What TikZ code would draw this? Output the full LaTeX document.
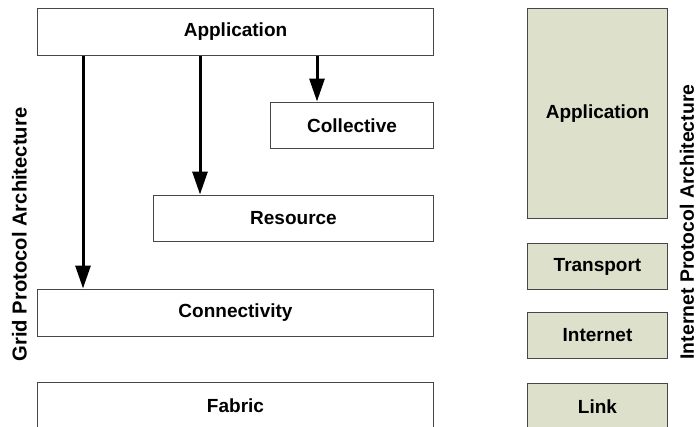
\documentclass[tikz,border=0pt]{standalone}
\usepackage{fontspec}
\setmainfont{Liberation Sans}
\usetikzlibrary{arrows.meta}
\definecolor{layergreen}{RGB}{221,224,203}
\definecolor{edgegray}{RGB}{70,70,70}
\begin{document}
\begin{tikzpicture}[x=1pt,y=1pt,
  layer/.style={draw=edgegray, line width=1pt, fill=white, anchor=north west,
    inner sep=0pt, font=\fontsize{19}{22}\selectfont\bfseries},
  iplayer/.style={layer, fill=layergreen},
  callarrow/.style={line width=3pt, -{Triangle[length=23pt,width=15pt]}, shorten >=0.5pt},
  sidelabel/.style={rotate=90, inner sep=0pt}]
  \useasboundingbox (0,0) rectangle (698,-426);
  \clip (0,0) rectangle (698,-426);

  % grid protocol stack
  \node[layer, minimum width=396, minimum height=47] (gapp) at (37,-8) {Application};
  \node[layer, minimum width=163, minimum height=46] (gcol) at (270,-102) {Collective};
  \node[layer, minimum width=280, minimum height=46] (gres) at (153,-195) {Resource};
  \node[layer, minimum width=396, minimum height=47] (gcon) at (37,-289) {Connectivity};
  \node[layer, minimum width=396, minimum height=62, text depth=0pt] (gfab) at (37,-382) {\raisebox{16pt}{Fabric}};

  % internet protocol stack
  \node[iplayer, minimum width=140, minimum height=210] (iapp) at (527,-8) {Application};
  \node[iplayer, minimum width=140, minimum height=46] (itra) at (527,-243) {Transport};
  \node[iplayer, minimum width=140, minimum height=46] (iint) at (527,-312) {Internet};
  \node[iplayer, minimum width=140, minimum height=62] (ilink) at (527,-383) {\raisebox{16pt}{Link}};

  % application calls into lower layers
  \draw[callarrow] ([xshift=46]gapp.south west) -- ([xshift=46]gcon.north west);
  \draw[callarrow] ([xshift=163]gapp.south west) -- ([xshift=47]gres.north west);
  \draw[callarrow] ([xshift=280]gapp.south west) -- ([xshift=47]gcol.north west);

  % stack titles
  \node[sidelabel, font=\fontsize{20.2}{22}\selectfont\bfseries] (gridtitle) at (19.5,-234.5) {Grid Protocol Architecture};
  \node[sidelabel, font=\fontsize{19.4}{22}\selectfont\bfseries] (iptitle) at (687,-222) {Internet Protocol Architecture};
\end{tikzpicture}
\end{document}
